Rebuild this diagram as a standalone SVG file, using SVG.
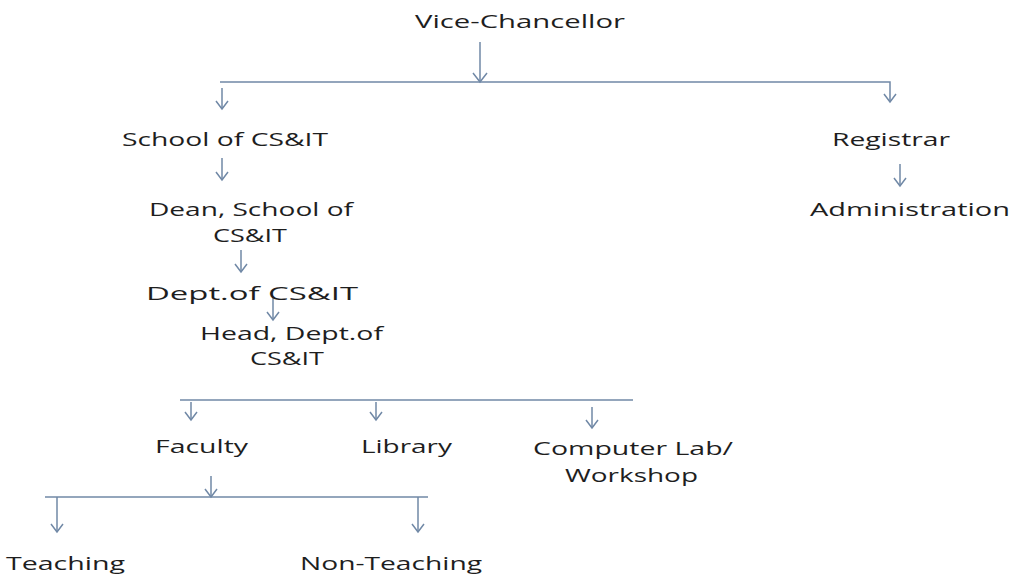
<svg xmlns="http://www.w3.org/2000/svg" width="1011" height="577" viewBox="0 0 1011 577">
<style>
text{font-family:"Open Sans","Noto Sans",sans-serif;font-size:19px;fill:#1e1e1e;}
.c line,.c path{stroke:#7088a6;stroke-width:1.5;fill:none;}
</style>
<rect width="1011" height="577" fill="#fff"/>
<g class="c" id="connectors">
<line x1="480" y1="42" x2="480" y2="82"/><path d="M473,73 L480,82 L487,73"/>
<path d="M220,82 L890,82 L890,102"/><path d="M884,94 L890,102 L896,94"/>
<line x1="222" y1="88" x2="222" y2="109"/><path d="M216,101 L222,109 L228,101"/>
<line x1="222" y1="158" x2="222" y2="180"/><path d="M216,172 L222,180 L228,172"/>
<line x1="241" y1="250" x2="241" y2="272"/><path d="M235,264 L241,272 L247,264"/>
<line x1="273" y1="298" x2="273" y2="320"/><path d="M267,312 L273,320 L279,312"/>
<line x1="900" y1="164" x2="900" y2="186"/><path d="M894,178 L900,186 L906,178"/>
<line x1="180" y1="400" x2="633" y2="400"/>
<line x1="191" y1="402" x2="191" y2="420"/><path d="M185,412 L191,420 L197,412"/>
<line x1="376" y1="402" x2="376" y2="420"/><path d="M370,412 L376,420 L382,412"/>
<line x1="592" y1="407" x2="592" y2="428"/><path d="M586,420 L592,428 L598,420"/>
<line x1="211" y1="476" x2="211" y2="497"/><path d="M205,489 L211,497 L217,489"/>
<line x1="45" y1="497" x2="428" y2="497"/>
<line x1="57" y1="497" x2="57" y2="532"/><path d="M51,524 L57,532 L63,524"/>
<line x1="418" y1="497" x2="418" y2="532"/><path d="M412,524 L418,532 L424,524"/>
</g>
<g id="vc"><text x="415" y="28" textLength="210" lengthAdjust="spacingAndGlyphs">Vice-Chancellor</text></g>
<g id="school"><text x="122" y="146" textLength="206" lengthAdjust="spacingAndGlyphs">School of CS&amp;IT</text></g>
<g id="dean"><text x="149" y="216" textLength="204" lengthAdjust="spacingAndGlyphs">Dean, School of</text><text x="213" y="242" textLength="74" lengthAdjust="spacingAndGlyphs">CS&amp;IT</text></g>
<g id="dept"><text x="146" y="300" textLength="212" lengthAdjust="spacingAndGlyphs">Dept.of CS&amp;IT</text></g>
<g id="head"><text x="200" y="340" textLength="183" lengthAdjust="spacingAndGlyphs">Head, Dept.of</text><text x="250" y="365" textLength="74" lengthAdjust="spacingAndGlyphs">CS&amp;IT</text></g>
<g id="registrar"><text x="832" y="146" textLength="118" lengthAdjust="spacingAndGlyphs">Registrar</text></g>
<g id="administration"><text x="810" y="216" textLength="200" lengthAdjust="spacingAndGlyphs">Administration</text></g>
<g id="faculty"><text x="155" y="453" textLength="93" lengthAdjust="spacingAndGlyphs">Faculty</text></g>
<g id="library"><text x="361" y="453" textLength="91" lengthAdjust="spacingAndGlyphs">Library</text></g>
<g id="lab"><text x="533" y="455" textLength="200" lengthAdjust="spacingAndGlyphs">Computer Lab/</text><text x="565" y="482" textLength="133" lengthAdjust="spacingAndGlyphs">Workshop</text></g>
<g id="teaching"><text x="6" y="570" textLength="119" lengthAdjust="spacingAndGlyphs">Teaching</text></g>
<g id="nonteaching"><text x="300" y="570" textLength="182" lengthAdjust="spacingAndGlyphs">Non-Teaching</text></g>
</svg>
